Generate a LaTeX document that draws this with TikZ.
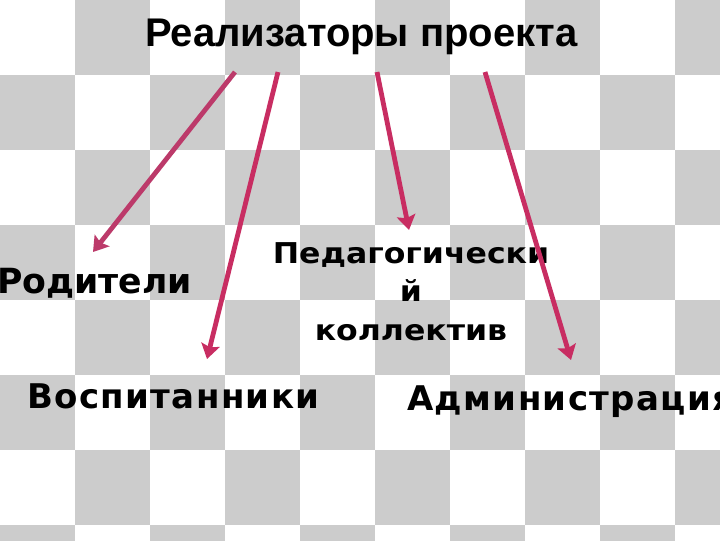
\documentclass[tikz,border=0pt]{standalone}
\usepackage{fontspec}
\setmainfont{Liberation Sans}
\newfontfamily\dvs[LetterSpace=4]{DejaVu Sans}
\newfontfamily\dvsr{DejaVu Sans}
\newfontfamily\dvsp[FakeStretch=1.1]{DejaVu Sans}
\usetikzlibrary{arrows.meta}
\definecolor{chk}{RGB}{204,204,204}
\definecolor{arrA}{RGB}{188,58,106}
\definecolor{arrB}{RGB}{200,45,98}
\tikzset{
  conn/.style={line width=3.6pt, -{Stealth[length=11pt,width=14pt,inset=2pt]}},
  lbl/.style={inner sep=0pt, anchor=base west, font=\dvs\bfseries\fontsize{25.5}{30}\selectfont},
}
\begin{document}
\begin{tikzpicture}[x=0.75pt,y=-0.75pt]
\useasboundingbox (0,0) rectangle (720,540);
\fill[white] (0,0) rectangle (720,540);
\foreach \i in {0,...,9}{
  \foreach \j in {0,...,7}{
    \pgfmathtruncatemacro{\pp}{mod(\i+\j,2)}
    \ifnum\pp=1 \fill[chk] (\i*75,\j*75) rectangle ++(75,75);\fi
  }
}
\node[inner sep=0pt, anchor=base west, font=\bfseries\fontsize{30}{34}\selectfont] (title) at (145,46) {Реализаторы проекта};
\node[inner sep=0pt, anchor=base west, font=\dvsr\bfseries\fontsize{26}{30}\selectfont] (rod) at (-3,293) {Родители};
\node[lbl] (vos) at (27,408) {Воспитанники};
\node[lbl] (adm) at (407,410) {Администрация};
\node[inner sep=0pt, align=center, font=\dvsp\bfseries\fontsize{21.5}{29}\selectfont, anchor=north] (ped) at (411,242) {Педагогически\\й\\коллектив};
\coordinate (s1) at (235,72); \coordinate (e1) at (93,252);
\coordinate (s2) at (278,72); \coordinate (e2) at (207,359);
\coordinate (s3) at (377,72); \coordinate (e3) at (409,230);
\coordinate (s4) at (485,72); \coordinate (e4) at (571,360);
\draw[conn, arrA] (s1) -- (e1);
\draw[conn, arrB] (s2) -- (e2);
\draw[conn, arrB] (s3) -- (e3);
\draw[conn, arrB] (s4) -- (e4);
\end{tikzpicture}
\end{document}
